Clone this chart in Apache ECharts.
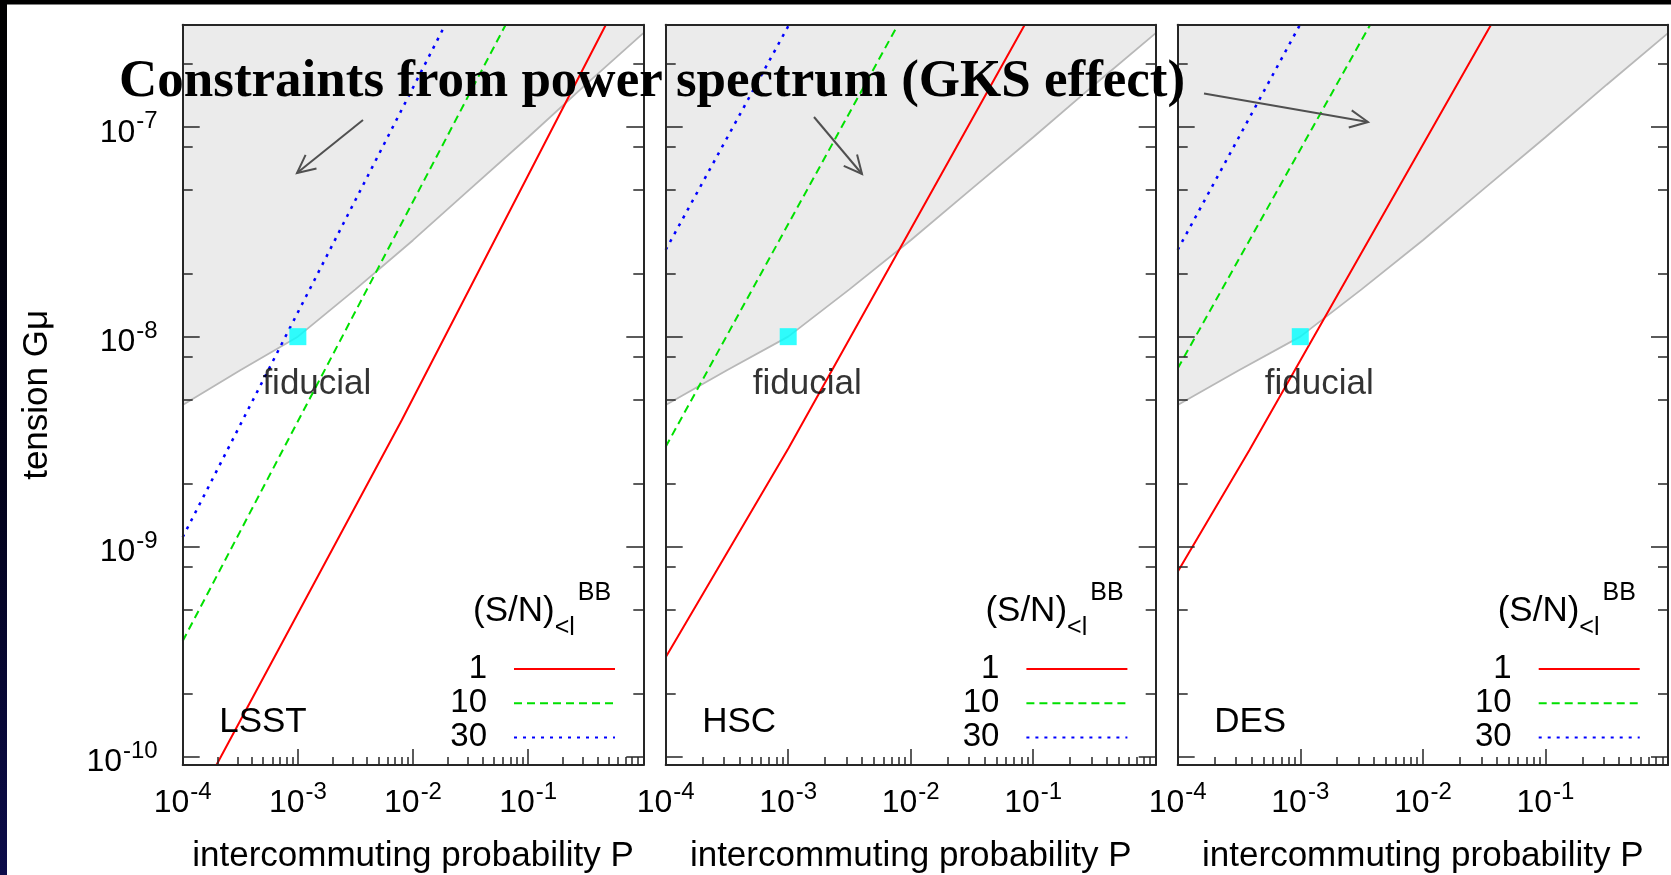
<!DOCTYPE html>
<html>
<head>
<meta charset="utf-8">
<script src="https://cdn.jsdelivr.net/npm/echarts@6/dist/echarts.min.js"></script>
<style>html,body{margin:0;padding:0;background:#fff}#c{width:1671px;height:875px}</style>
</head>
<body>
<div id="c"></div>
<script>
// ---------------- data ----------------
const surveys = ['LSST', 'HSC', 'DES'];
const snLevels = ['1', '10', '30'];

const pMin = 1e-4, pMax = 1;
const gMin = 9.12e-11, gMax = 3.06e-7;

const xTickValues = [1e-4, 1e-3, 1e-2, 1e-1, 1];
const xTickLabels = ['10^-4', '10^-3', '10^-2', '10^-1', ''];
const xMinorTicks = [2e-4, 3e-4, 4e-4, 5e-4, 6e-4, 7e-4, 8e-4, 9e-4,
                     2e-3, 3e-3, 4e-3, 5e-3, 6e-3, 7e-3, 8e-3, 9e-3,
                     2e-2, 3e-2, 4e-2, 5e-2, 6e-2, 7e-2, 8e-2, 9e-2,
                     0.2, 0.3, 0.4, 0.5, 0.6, 0.7, 0.8, 0.9];
const yTickValues = [1e-10, 1e-9, 1e-8, 1e-7];
const yTickLabels = ['10^-10', '10^-9', '10^-8', '10^-7'];
const yMinorTicks = [2e-10, 5e-10, 8e-10, 2e-9, 5e-9, 8e-9, 2e-8, 5e-8, 8e-8, 2e-7];

// power-spectrum (GKS) constraint boundary, identical in every panel
const gksP = [1e-4, 3.16e-4, 1e-3, 3.16e-3, 1e-2, 3.16e-2, 1e-1, 3.16e-1, 1];
const gksG = [4.73e-9, 6.92e-9, 1.0e-8, 1.68e-8, 2.88e-8, 5.07e-8, 8.91e-8, 1.585e-7, 2.79e-7];

// (S/N)_{<l}^{BB} = 1, 10, 30 curves
const lsstP1  = [1.963e-4, 8.0e-3, 0.473];  const lsstG1  = [9.12e-11, 4.01e-9, 3.06e-7];
const lsstP10 = [1e-4, 6.38e-2];            const lsstG10 = [3.55e-10, 3.06e-7];
const lsstP30 = [1e-4, 1.905e-2];           const lsstG30 = [1.109e-9, 3.06e-7];
const hscP1   = [1e-4, 1.005e-3, 8.53e-2];  const hscG1   = [2.97e-10, 2.94e-9, 3.06e-7];
const hscP10  = [1e-4, 7.87e-3];            const hscG10  = [2.99e-9, 3.06e-7];
const hscP30  = [1e-4, 1.016e-3];           const hscG30  = [2.59e-8, 3.06e-7];
const desP1   = [1e-4, 3.84e-4, 3.60e-2];   const desG1   = [7.60e-10, 2.88e-9, 3.06e-7];
const desP10  = [1e-4, 3.72e-3];            const desG10  = [7.06e-9, 3.06e-7];
const desP30  = [1e-4, 9.95e-4];            const desG30  = [2.59e-8, 3.06e-7];

const fiducialP = [1e-3];
const fiducialG = [1e-8];

// ---------------- layout / style ----------------
const FONT = "'Liberation Sans', Arial, Helvetica, sans-serif";
const SERIF = "'Liberation Serif', 'Times New Roman', serif";
function hasFont(name) {
  const ctx = document.createElement('canvas').getContext('2d');
  ctx.font = '40px monospace';
  const w0 = ctx.measureText('10abcXYZ').width;
  ctx.font = "40px '" + name + "', monospace";
  return Math.abs(ctx.measureText('10abcXYZ').width - w0) > 0.5;
}
const NARROW = hasFont('Liberation Sans Narrow');
const DIGIT_FONT = NARROW ? "'Liberation Sans Narrow', " + FONT : FONT;
const DIGIT_SIZE = NARROW ? 36 : 32;

const FRAME = '#262626';
const W = 1671;
const GTOP = 24.7, GH = 740.3;
const panels = [
  { left: 182.7, width: 460.6 },
  { left: 665.7, width: 490 },
  { left: 1177.7, width: 490.3 }
];
const curveSets = [
  [[lsstP1, lsstG1], [lsstP10, lsstG10], [lsstP30, lsstG30]],
  [[hscP1, hscG1], [hscP10, hscG10], [hscP30, hscG30]],
  [[desP1, desG1], [desP10, desG10], [desP30, desG30]]
];
const lineStyles = [
  { color: '#ff0000', type: 'solid', width: 2 },
  { color: '#00e000', type: [8, 5], width: 2 },
  { color: '#0000ff', type: [3, 6], width: 2.5 }
];

function zip(a, b) { return a.map((v, i) => [v, b[i]]); }
function labelFor(val, values, labels) {
  for (let i = 0; i < values.length; i++) {
    if (Math.abs(Math.log10(val / values[i])) < 1e-6) {
      const parts = labels[i].split('^');
      return parts.length === 2 ? '{b|' + parts[0] + '}{s|' + parts[1] + '}' : labels[i];
    }
  }
  return '';
}
const tickRich = {
  b: { fontSize: DIGIT_SIZE, lineHeight: 46, verticalAlign: 'middle', fontFamily: DIGIT_FONT, color: '#000' },
  s: { fontSize: 24, lineHeight: 24, verticalAlign: 'top', fontFamily: FONT, color: '#000', padding: [0, 0, 0, 1] }
};

const option = {
  animation: false,
  backgroundColor: '#ffffff',
  grid: [], xAxis: [], yAxis: [], series: [], legend: [], graphic: []
};

panels.forEach((p, k) => {
  option.grid.push({ left: p.left, top: GTOP, width: p.width, height: GH, show: false, containLabel: false, outerBoundsMode: 'none' });
  const common = { type: 'log', logBase: 10, gridIndex: k, splitLine: { show: false }, z: 10 };
  // x axes
  option.xAxis.push(Object.assign({}, common, {
    position: 'bottom', min: pMin, max: pMax,
    axisLine: { show: true, onZero: false, lineStyle: { color: FRAME, width: 2 } },
    axisTick: { show: true, inside: true, length: 16, customValues: xTickValues, lineStyle: { color: FRAME, width: 1.5 } },
    axisLabel: { show: true, customValues: xTickValues.slice(0, 4), margin: 15,
      formatter: v => labelFor(v, xTickValues, xTickLabels), rich: tickRich },
    name: 'intercommuting probability P', nameLocation: 'middle', nameGap: 74, nameMoveOverlap: false,
    nameTextStyle: { fontSize: 35, lineHeight: 35, fontFamily: FONT, color: '#000' }
  }));
  option.xAxis.push(Object.assign({}, common, {
    position: 'bottom', min: pMin, max: pMax,
    axisLine: { show: false, onZero: false },
    axisTick: { show: true, inside: true, length: 8, customValues: xMinorTicks, lineStyle: { color: FRAME, width: 1.5 } },
    axisLabel: { show: false }
  }));
  option.xAxis.push(Object.assign({}, common, {
    position: 'top', min: pMin, max: pMax,
    axisLine: { show: true, onZero: false, lineStyle: { color: FRAME, width: 2 } },
    axisTick: { show: false }, axisLabel: { show: false }
  }));
  // y axes
  const yLeft = Object.assign({}, common, {
    position: 'left', min: gMin, max: gMax,
    axisLine: { show: true, onZero: false, lineStyle: { color: FRAME, width: 2 } },
    axisTick: { show: true, inside: true, length: 17, customValues: yTickValues, lineStyle: { color: FRAME, width: 1.5 } },
    axisLabel: { show: k === 0, customValues: yTickValues, margin: 25, padding: [12, 0, 0, 0],
      formatter: v => labelFor(v, yTickValues, yTickLabels), rich: tickRich }
  });
  if (k === 0) {
    yLeft.name = 'tension Gμ';
    yLeft.nameLocation = 'middle';
    yLeft.nameGap = 128;
    yLeft.nameMoveOverlap = false;
    yLeft.nameTextStyle = { fontSize: 35, lineHeight: 35, fontFamily: FONT, color: '#000' };
  }
  option.yAxis.push(yLeft);
  option.yAxis.push(Object.assign({}, common, {
    position: 'left', min: gMin, max: gMax,
    axisLine: { show: false, onZero: false },
    axisTick: { show: true, inside: true, length: 10, customValues: yMinorTicks, lineStyle: { color: FRAME, width: 1.5 } },
    axisLabel: { show: false }
  }));
  option.yAxis.push(Object.assign({}, common, {
    position: 'right', min: gMin, max: gMax,
    axisLine: { show: true, onZero: false, lineStyle: { color: FRAME, width: 2 } },
    axisTick: { show: true, inside: true, length: 17, customValues: yTickValues, lineStyle: { color: FRAME, width: 1.5 } },
    axisLabel: { show: false }
  }));
  option.yAxis.push(Object.assign({}, common, {
    position: 'right', min: gMin, max: gMax,
    axisLine: { show: false, onZero: false },
    axisTick: { show: true, inside: true, length: 10, customValues: yMinorTicks, lineStyle: { color: FRAME, width: 1.5 } },
    axisLabel: { show: false }
  }));

  const xi = 3 * k, yi = 4 * k;
  // constraint region
  option.series.push({
    type: 'line', name: 'GKS', xAxisIndex: xi, yAxisIndex: yi, data: zip(gksP, gksG),
    symbol: 'none', silent: true, z: 1,
    lineStyle: { color: '#b8b8b8', width: 1.8 },
    areaStyle: { color: '#ebebeb', opacity: 1, origin: 'end' }
  });
  // S/N curves
  curveSets[k].forEach((c, j) => {
    option.series.push({
      type: 'line', name: snLevels[j], xAxisIndex: xi, yAxisIndex: yi, data: zip(c[0], c[1]),
      symbol: 'none', silent: true, z: 3, lineStyle: lineStyles[j]
    });
  });
  // fiducial point
  option.series.push({
    type: 'scatter', name: 'fiducial', xAxisIndex: xi, yAxisIndex: yi, data: zip(fiducialP, fiducialG),
    symbol: 'rect', symbolSize: 17, itemStyle: { color: '#00ffff' }, z: 5, silent: true,
    label: { show: true, formatter: 'fiducial', position: 'bottom', distance: 22, offset: [19, 0],
      fontSize: 35, lineHeight: 35, fontFamily: FONT, color: '#000' }
  });
  // legend
  const iconRight = p.left + p.width - 27.3;
  option.legend.push({
    orient: 'vertical', align: 'right', right: W - iconRight, top: 652.5, padding: 0,
    itemWidth: 101, itemHeight: 14, itemGap: 1.2, selectedMode: false, data: snLevels,
    textStyle: { fontSize: 33, lineHeight: 33, fontFamily: FONT, color: '#000', padding: [0, 22, 0, 0] },
    itemStyle: { opacity: 0 }
  });
  // legend heading (S/N)_{<l}^{BB}
  option.graphic.push({
    type: 'text', z: 50, silent: true,
    style: {
      x: p.left + p.width - 170.3, y: 580.9, align: 'left', verticalAlign: 'top',
      text: '{m|(S/N)}{sub|<l}{sup|BB}',
      rich: {
        m: { fontSize: 35, lineHeight: 60, verticalAlign: 'middle', fontFamily: FONT, fill: '#000' },
        sub: { fontSize: 25, lineHeight: 46, verticalAlign: 'bottom', fontFamily: FONT, fill: '#000', padding: [0, 3, 0, 0] },
        sup: { fontSize: 25, lineHeight: 42, verticalAlign: 'top', fontFamily: FONT, fill: '#000' }
      }
    }
  });
  // survey name
  option.graphic.push({
    type: 'text', z: 50, silent: true,
    style: { x: p.left + 36.5, y: 722.5, text: surveys[k], fontSize: 35, fontFamily: FONT, fill: '#000',
      align: 'left', verticalAlign: 'middle' }
  });
});

// slide decorations
option.graphic.push({ type: 'rect', z: 60, silent: true, shape: { x: 0, y: 0, width: W, height: 4.5 }, style: { fill: '#000' } });
option.graphic.push({ type: 'rect', z: 60, silent: true, shape: { x: 0, y: 0, width: 7, height: 875 },
  style: { fill: { type: 'linear', x: 0, y: 0, x2: 0, y2: 1,
    colorStops: [{ offset: 0, color: '#000' }, { offset: 0.55, color: '#02021a' }, { offset: 1, color: '#0c0c4a' }] } } });

// overlay title and arrows
option.graphic.push({
  type: 'text', z: 100, silent: true,
  style: { x: 119, y: 82.5, text: 'Constraints from power spectrum (GKS effect)', fontSize: 53, fontWeight: 'bold',
    fontFamily: SERIF, fill: '#000', align: 'left', verticalAlign: 'middle' }
});
const arrows = [
  [363, 120, 297, 173],
  [814, 117, 862, 174],
  [1204, 93.5, 1368, 122]
];
arrows.forEach(a => {
  const [x1, y1, x2, y2] = a;
  const ang = Math.atan2(y2 - y1, x2 - x1), L = 20, w = 0.45;
  option.graphic.push({ type: 'line', z: 100, silent: true, shape: { x1, y1, x2, y2 }, style: { stroke: '#505050', lineWidth: 2 } });
  option.graphic.push({ type: 'polyline', z: 100, silent: true,
    shape: { points: [[x2 - L * Math.cos(ang - w), y2 - L * Math.sin(ang - w)], [x2, y2],
                      [x2 - L * Math.cos(ang + w), y2 - L * Math.sin(ang + w)]] },
    style: { stroke: '#505050', lineWidth: 2, fill: null } });
});

const chart = echarts.init(document.getElementById('c'), null, { renderer: 'canvas' });
chart.setOption(option);
</script>
</body>
</html>
